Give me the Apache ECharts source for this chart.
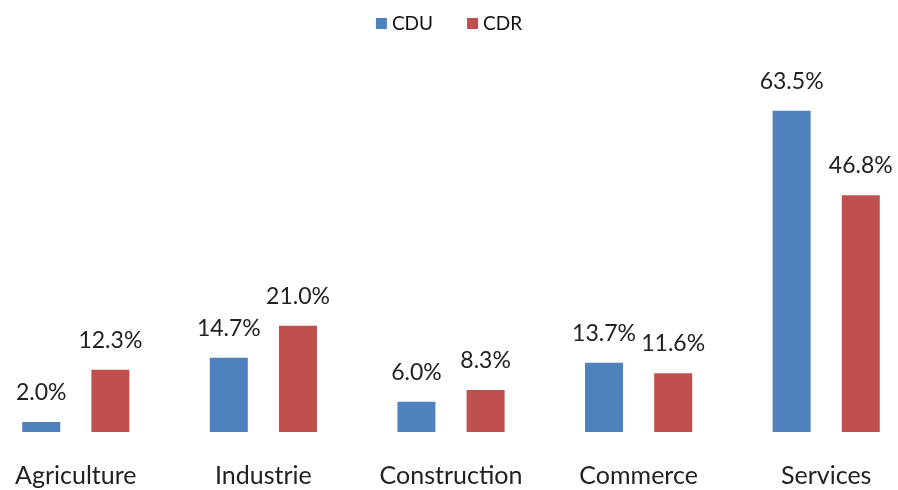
<!DOCTYPE html>
<html>
<head>
<meta charset="utf-8">
<script src="https://cdn.jsdelivr.net/npm/echarts@6/dist/echarts.min.js"></script>
<style>
    html, body { margin: 0; padding: 0; background: #fff; }
    #chart { width: 898px; height: 490px; }
</style>
</head>
<body>
<div id="chart"></div>
<script>
    var categories = ['Agriculture', 'Industrie', 'Construction', 'Commerce', 'Services'];
    var seriesNames = ['CDU', 'CDR'];
    var cduValues = [2.0, 14.7, 6.0, 13.7, 63.5];
    var cdrValues = [12.3, 21.0, 8.3, 11.6, 46.8];

    var mychart = echarts.init(document.getElementById('chart'));
    var font = 'Lato, "Liberation Sans", sans-serif';

    var labelStyle = {
        show: true,
        position: 'top',
        distance: 18,
        color: '#222',
        fontSize: 23,
        fontFamily: font,
        formatter: function (p) {
            return p.value.toFixed(1) + '%';
        }
    };

    var option = {
        animation: false,
        legend: {
            data: seriesNames,
            top: 9,
            left: 'center',
            icon: 'rect',
            itemWidth: 11,
            itemHeight: 11,
            itemGap: 34,
            textStyle: { color: '#111', fontSize: 19, fontFamily: font }
        },
        grid: {
            left: -18,
            right: -22,
            top: 78,
            bottom: 58,
            outerBoundsMode: 'none',
            containLabel: false
        },
        xAxis: {
            type: 'category',
            data: categories,
            axisLine: { show: false },
            axisTick: { show: false },
            axisLabel: {
                margin: 31,
                color: '#222',
                fontSize: 25,
                fontFamily: font
            }
        },
        yAxis: {
            type: 'value',
            min: 0,
            max: 70,
            show: false
        },
        series: [{
            name: seriesNames[0],
            type: 'bar',
            data: cduValues,
            barWidth: 38,
            barGap: '82%',
            itemStyle: { color: '#4F81BD' },
            label: labelStyle
        }, {
            name: seriesNames[1],
            type: 'bar',
            data: cdrValues,
            barWidth: 38,
            itemStyle: { color: '#C0504D' },
            label: labelStyle
        }]
    };

    mychart.setOption(option);
</script>
</body>
</html>
